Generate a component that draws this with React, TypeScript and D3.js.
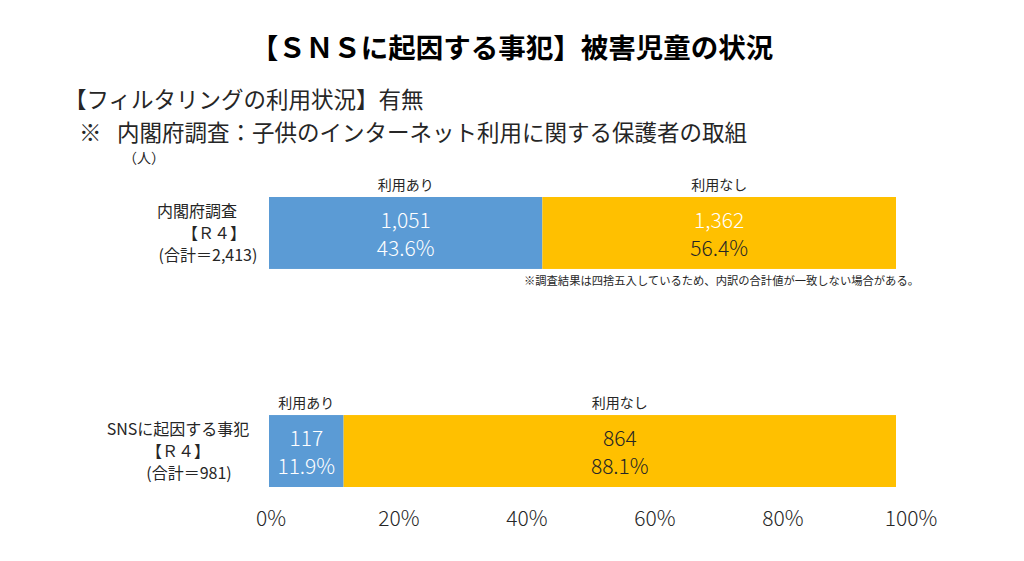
import * as d3 from "d3";

const title = "【ＳＮＳに起因する事犯】被害児童の状況";
const subtitle1 = "【フィルタリングの利用状況】有無";
const subtitleMark = "※";
const subtitle2 = "内閣府調査：子供のインターネット利用に関する保護者の取組";
const unitLabel = "（人）";
const footnote = "※調査結果は四捨五入しているため、内訳の合計値が一致しない場合がある。";

const categoryLabels = [
  ["内閣府調査", "【Ｒ４】", "(合計＝2,413)"],
  ["SNSに起因する事犯", "【Ｒ４】", "(合計＝981)"],
];
const seriesNames = ["利用あり", "利用なし"];
const counts = [
  [1051, 1362],
  [117, 864],
];
const shares = [
  [43.6, 56.4],
  [11.9, 88.1],
];
const tickValues = [0, 20, 40, 60, 80, 100];

const W = 1024;
const H = 561;
const FONT = "'Noto Sans CJK JP', 'Noto Sans', sans-serif";
const colors = ["#5B9BD5", "#FFC000"];
const textDark = "#262626";
// [category][series] -> [count colour, percent colour]
const valueColors = [
  [["#fff", "#fff"], ["#fff", textDark]],
  [["#fff", "#fff"], [textDark, textDark]],
];
// centre of each category label line
const labelCenters = [
  [197, 214, 208],
  [178, 178, 189],
];

export default function App() {
  const x = d3.scaleLinear().domain([0, 100]).range([269, 896]);
  const tickX = d3.scaleLinear().domain([0, 100]).range([271, 911]);
  const y = d3
    .scaleBand<number>()
    .domain(categoryLabels.map((_, i) => i))
    .range([197, 487])
    .paddingInner(0.67)
    .paddingOuter(0);
  const bw = y.bandwidth();
  const fmt = d3.format(",");

  return (
    <svg
      width={W}
      height={H}
      style={{ position: "absolute", left: 0, top: 0, background: "#fff" }}
      fontFamily={FONT}
    >
      <rect width={W} height={H} fill="#fff" />
      <text x={512} y={58} textAnchor="middle" fontSize={27.5} fontWeight={700} fill="#000">
        {title}
      </text>
      <text x={64} y={108} fontSize={22.5} fill={textDark}>
        {subtitle1}
      </text>
      <text x={79} y={141} fontSize={22.5} fill={textDark}>
        {subtitleMark}
      </text>
      <text x={117} y={141} fontSize={22.5} fill={textDark}>
        {subtitle2}
      </text>
      <text x={123} y={163} fontSize={14} fill={textDark}>
        {unitLabel}
      </text>

      {categoryLabels.map((lines, ci) => {
        const y0 = (y(ci) ?? 0) + bw / 2;
        let cum = 0;
        return (
          <g key={ci}>
            {lines.map((ln, li) => (
              <text
                key={li}
                x={labelCenters[ci][li]}
                y={y0 + 6 + (li - 1) * 22}
                textAnchor="middle"
                fontSize={16}
                fill={textDark}
              >
                {ln}
              </text>
            ))}
            {shares[ci].map((s, si) => {
              const x0 = x(cum);
              cum += s;
              const x1 = x(cum);
              const cx = (x0 + x1) / 2;
              return (
                <g key={si}>
                  <rect x={x0} y={y(ci)} width={x1 - x0} height={bw} fill={colors[si]} />
                  <text
                    x={cx}
                    y={(y(ci) ?? 0) - 7}
                    textAnchor="middle"
                    fontSize={14}
                    fill={textDark}
                  >
                    {seriesNames[si]}
                  </text>
                  <text
                    x={cx}
                    y={y0 - 5}
                    textAnchor="middle"
                    fontSize={21}
                    fontWeight={300}
                    fill={valueColors[ci][si][0]}
                  >
                    {fmt(counts[ci][si])}
                  </text>
                  <text
                    x={cx}
                    y={y0 + 23}
                    textAnchor="middle"
                    fontSize={21}
                    fontWeight={300}
                    fill={valueColors[ci][si][1]}
                  >
                    {s.toFixed(1)}%
                  </text>
                </g>
              );
            })}
          </g>
        );
      })}

      <text x={919} y={285} textAnchor="end" fontSize={11.3} fill={textDark}>
        {footnote}
      </text>

      {tickValues.map((t) => (
        <text
          key={t}
          x={tickX(t)}
          y={526}
          textAnchor="middle"
          fontSize={21}
          fontWeight={300}
          fill={textDark}
        >
          {t}%
        </text>
      ))}
    </svg>
  );
}
